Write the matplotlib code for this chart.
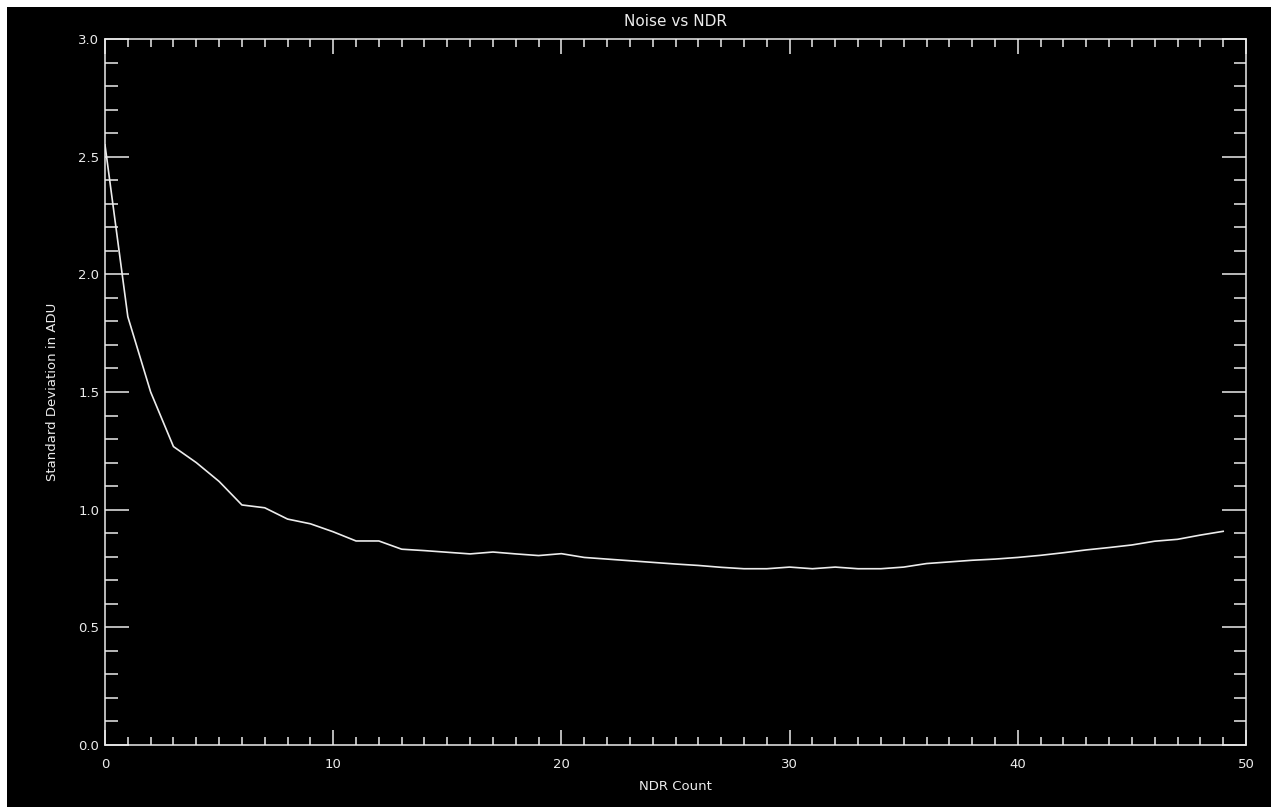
import matplotlib
matplotlib.use("Agg")
import matplotlib.pyplot as plt
from matplotlib.patches import Rectangle
from matplotlib.ticker import MultipleLocator, FormatStrFormatter

ndr_count = list(range(50))
std_dev = [2.55, 1.82, 1.50, 1.268, 1.20, 1.12, 1.02, 1.008, 0.96, 0.94,
           0.906, 0.867, 0.867, 0.832, 0.826, 0.819, 0.812, 0.820, 0.812, 0.805,
           0.813, 0.797, 0.790, 0.783, 0.776, 0.769, 0.763, 0.755, 0.749, 0.749,
           0.756, 0.749, 0.756, 0.749, 0.749, 0.756, 0.771, 0.778, 0.785, 0.790,
           0.797, 0.806, 0.817, 0.829, 0.839, 0.850, 0.866, 0.874, 0.892, 0.908]
title = "Noise vs NDR"
xlabel = "NDR Count"
ylabel = "Standard Deviation in ADU"

W, H = 1271, 807
fig = plt.figure(figsize=(W / 100, H / 100), dpi=100, facecolor="white")
bg = Rectangle((7 / W, 0), 1 - 7 / W, (H - 7) / H,
               transform=fig.transFigure, facecolor="black",
               edgecolor="none", zorder=-10)
fig.add_artist(bg)

left, right, bottom, top = 105 / W, 1246 / W, (H - 745) / H, (H - 39) / H
ax = fig.add_axes([left, bottom, right - left, top - bottom])
ax.set_facecolor("black")
fg = "#ececec"
ax.plot(ndr_count, std_dev, color=fg, lw=1.2)

ax.set_xlim(0, 50)
ax.set_ylim(0, 3.0)
ax.xaxis.set_major_locator(MultipleLocator(10))
ax.xaxis.set_minor_locator(MultipleLocator(1))
ax.yaxis.set_major_locator(MultipleLocator(0.5))
ax.yaxis.set_minor_locator(MultipleLocator(0.1))
ax.yaxis.set_major_formatter(FormatStrFormatter("%.1f"))

for s in ax.spines.values():
    s.set_color(fg)
    s.set_linewidth(1.1)

ax.tick_params(axis="both", which="both", direction="in", colors=fg,
               top=True, right=True, width=1.1, labelsize=9.5)
ax.tick_params(axis="x", which="major", length=11, pad=9)
ax.tick_params(axis="x", which="minor", length=5.5)
ax.tick_params(axis="y", which="major", length=17, pad=4)
ax.tick_params(axis="y", which="minor", length=9)

ax.set_title(title, color=fg, fontsize=11, pad=9)
ax.set_xlabel(xlabel, color=fg, fontsize=9.5, labelpad=7)
ax.set_ylabel(ylabel, color=fg, fontsize=9.5, labelpad=14)

fig.savefig("out.png", dpi=100, facecolor="white")
